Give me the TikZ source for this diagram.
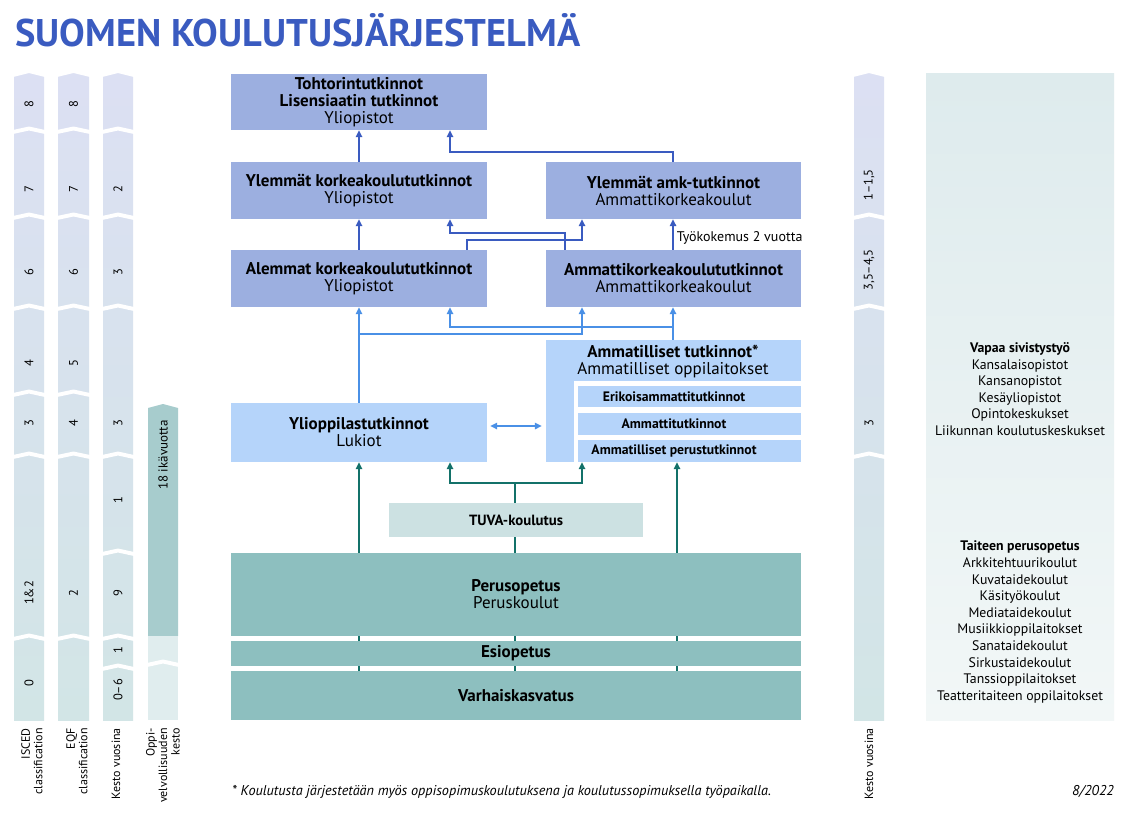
\documentclass[tikz,border=0pt]{standalone}
\usepackage{fontspec}
\setmainfont{PT Sans}
\usetikzlibrary{arrows.meta}
\definecolor{titleblue}{HTML}{3A5BC0}
\definecolor{boxdark}{HTML}{9CAFE0}
\definecolor{boxlight}{HTML}{B5D4FA}
\definecolor{tuvac}{HTML}{CCE1E2}
\definecolor{tealbox}{HTML}{8DBFBF}
\definecolor{arrdark}{HTML}{3A5BC0}
\definecolor{arrlight}{HTML}{4A90E6}
\definecolor{arrteal}{HTML}{137169}
\definecolor{coltop}{HTML}{DCE0F3}
\definecolor{colbot}{HTML}{D2E5E6}
\definecolor{oppidark}{HTML}{A7CCCD}
\definecolor{oppilight}{HTML}{E0EDEE}
\definecolor{paneltop}{HTML}{DEEBED}
\definecolor{panelbot}{HTML}{F2F7F7}
\newcommand\mkcolumn[3]{%
  \fill[top color=coltop,bottom color=colbot] (#1,73) rectangle (#2,720);
  \fill[white] (#1-1,71) -- (#1-1,77) -- ({(#1+#2)/2},73) -- (#2+1,77) -- (#2+1,71) -- cycle;
  \foreach \b in {#3} {\fill[white] (#1-1,\b) -- ({(#1+#2)/2},\b-3.5) -- (#2+1,\b) -- (#2+1,\b+4) -- ({(#1+#2)/2},\b+0.5) -- (#1-1,\b+4) -- cycle;}%
}
\begin{document}
\begin{tikzpicture}[x=1pt,y=-1pt,
  eduBox/.style={inner sep=0pt, align=center, font=\fontsize{17}{17}\selectfont, text=black},
  darkBox/.style={eduBox, fill=boxdark, minimum width=256pt, minimum height=57pt},
  lightBox/.style={eduBox, fill=boxlight},
  subBox/.style={eduBox, fill=boxlight, minimum width=223pt, minimum height=22pt},
  subTxt/.style={font=\fontsize{13.7}{14}\selectfont\bfseries, inner sep=0pt},
  tealBox/.style={eduBox, fill=tealbox, minimum width=570pt},
  numLbl/.style={rotate=90, font=\fontsize{12.5}{12.5}\selectfont, inner sep=0pt},
  colLbl/.style={rotate=90, anchor=east, align=right, font=\fontsize{12}{12.5}\selectfont, inner sep=0pt},
  panelTxt/.style={align=center, font=\fontsize{13.8}{16.6}\selectfont, inner sep=0pt},
  adk/.style={draw=arrdark, line width=1.5pt, -{Triangle[length=7pt,width=6.5pt]}},
  alt/.style={draw=arrlight, line width=1.5pt, -{Triangle[length=7pt,width=6.5pt]}},
  ate/.style={draw=arrteal, line width=1.5pt, -{Triangle[length=7pt,width=6.5pt]}},
  tln/.style={draw=arrteal, line width=1.5pt}
  ]
\useasboundingbox (0,0) rectangle (1134,820);
\fill[white] (0,0) rectangle (1134,820);

% title
\node[anchor=base west, inner sep=0pt, text=titleblue] (title) at (15,46)
  {\resizebox{565pt}{33pt}{\bfseries SUOMEN KOULUTUSJÄRJESTELMÄ}};

% left columns
\mkcolumn{14}{44}{130,216,307,393,455,637}
\mkcolumn{58}{89}{130,216,307,393,455,637}
\mkcolumn{103}{133}{130,216,307,455,552,637,667}
\mkcolumn{854}{884}{216,307,455}
% oppivelvollisuus
\fill[oppidark] (148,408) -- (163,404) -- (178,408) -- (178,636) -- (148,636) -- cycle;
\fill[oppilight] (148,636) rectangle (178,720);
\fill[white] (147,663) -- (163,659.5) -- (179,663) -- (179,667) -- (163,663.5) -- (147,667) -- cycle;

% column numbers
\node[numLbl] (i8) at (29,104) {8};
\node[numLbl] (i7) at (29,189) {7};
\node[numLbl] (i6) at (29,272) {6};
\node[numLbl] (i4) at (29,363) {4};
\node[numLbl] (i3) at (29,423) {3};
\node[numLbl] (i12) at (29,593) {1\&2};
\node[numLbl] (i0) at (29,683) {0};
\node[numLbl] (e8) at (73.5,104) {8};
\node[numLbl] (e7) at (73.5,189) {7};
\node[numLbl] (e6) at (73.5,272) {6};
\node[numLbl] (e5) at (73.5,363) {5};
\node[numLbl] (e4) at (73.5,423) {4};
\node[numLbl] (e2) at (73.5,593) {2};
\node[numLbl] (k2) at (118,189) {2};
\node[numLbl] (k3a) at (118,272) {3};
\node[numLbl] (k3b) at (118,423) {3};
\node[numLbl] (k1a) at (118,500) {1};
\node[numLbl] (k9) at (118,593) {9};
\node[numLbl] (k1b) at (118,650) {1};
\node[numLbl] (k06) at (118,690) {0–6};
\node[numLbl, font=\fontsize{13}{13}\selectfont] (o18) at (163,455) {18 ikävuotta};
\node[numLbl] (r1) at (869,185) {1–1,5};
\node[numLbl] (r2) at (869,270) {3,5–4,5};
\node[numLbl] (r3) at (869,423) {3};

% column captions
\node[colLbl] (capI) at (32,728) {ISCED\\classification};
\node[colLbl] (capE) at (77,728) {EQF\\classification};
\node[colLbl] (capK) at (116,728) {Kesto vuosina};
\node[colLbl] (capO) at (163,728) {Oppi-\\velvollisuuden\\kesto};
\node[colLbl] (capR) at (869,728) {Kesto vuosina};

% right panel
\fill[top color=paneltop,bottom color=panelbot] (926,73) rectangle (1114,720);
\node[panelTxt] (vapaa) at (1020,389) {\textbf{Vapaa sivistystyö}\\Kansalaisopistot\\Kansanopistot\\Kesäyliopistot\\Opintokeskukset\\Liikunnan koulutuskeskukset};
\node[panelTxt] (taide) at (1020,622) {\textbf{Taiteen perusopetus}\\Arkkitehtuurikoulut\\Kuvataidekoulut\\Käsityökoulut\\Mediataidekoulut\\Musiikkioppilaitokset\\Sanataidekoulut\\Sirkustaidekoulut\\Tanssioppilaitokset\\Teatteritaiteen oppilaitokset};

% helper x positions
\coordinate (x450) at (450,0);
\coordinate (x467) at (467,0);
\coordinate (x515) at (515,0);
\coordinate (x565) at (565,0);
\coordinate (x582) at (582,0);
\coordinate (x673) at (673,0);
\coordinate (x677) at (677,0);

% boxes
\node[darkBox, minimum height=56pt] (tohtori) at (359,102) {\textbf{Tohtorintutkinnot}\\\textbf{Lisensiaatin tutkinnot}\\Yliopistot};
\node[darkBox] (ylkk) at (359,190.5) {\textbf{Ylemmät korkeakoulututkinnot}\\Yliopistot};
\node[darkBox, minimum width=255pt] (ylamk) at (673.5,190.5) {\textbf{Ylemmät amk-tutkinnot}\\Ammattikorkeakoulut};
\node[darkBox] (alkk) at (359,278.5) {\textbf{Alemmat korkeakoulututkinnot}\\Yliopistot};
\node[darkBox, minimum width=255pt] (amk) at (673.5,278.5) {\textbf{Ammattikorkeakoulututkinnot}\\Ammattikorkeakoulut};
\node[lightBox, minimum width=256pt, minimum height=59pt] (ylio) at (359,432.5) {\textbf{Ylioppilastutkinnot}\\Lukiot};
\node[lightBox, minimum width=255pt, minimum height=122pt] (amm) at (673.5,401) {};
\fill[white] (574,381) rectangle (802,463);
\node[eduBox] (ammtxt) at (673,361) {\textbf{Ammatilliset tutkinnot*}\\Ammatilliset oppilaitokset};
\node[subBox, minimum height=21pt, label={[subTxt, xshift=-15.5pt]center:Erikoisammattitutkinnot}] (s1) at (689.5,396.5) {};
\node[subBox, label={[subTxt, xshift=-15.5pt]center:Ammattitutkinnot}] (s2) at (689.5,424) {};
\node[subBox, label={[subTxt, xshift=-15.5pt]center:Ammatilliset perustutkinnot}] (s3) at (689.5,451) {};

% teal connectors (drawn behind the lower boxes)
\draw[tln] (359,671) -- (359,553);
\draw[tln] (515,671) -- (515,553);
\draw[tln] (677,671) -- (677,553);
\node[tealBox, minimum height=83pt] (perus) at (516,594.5) {\textbf{Perusopetus}\\Peruskoulut};
\node[tealBox, minimum height=25pt] (esi) at (516,653.5) {\textbf{Esiopetus}};
\node[tealBox, minimum height=49pt] (varh) at (516,695.5) {\textbf{Varhaiskasvatus}};
\draw[ate] (perus.north -| ylio.south) -- (ylio.south);
\draw[tln] (perus.north -| x515) -- (x515 |- 0,483) coordinate (tj);
\node[eduBox, fill=tuvac, minimum width=254pt, minimum height=34pt, font=\fontsize{14.8}{15}\selectfont\bfseries] (tuva) at (516,520) {TUVA-koulutus};
\draw[ate] (tj) -| (ylio.south -| x450);
\draw[ate] (tj) -| (amm.south -| x582);
\draw[ate] (perus.north -| x677) -- (amm.south -| x677);

% light blue connectors
\draw[alt] (ylio.north) -- (alkk.south);
\draw[alt] (ylio.north |- 0,334) -| (amk.south -| x582);
\draw[alt] (amm.north -| x673) -- (amk.south -| x673);
\draw[alt] (amm.north -| x673) ++(0,-13) -| (alkk.south -| x450);
\draw[alt, {Triangle[length=7pt,width=6.5pt]}-{Triangle[length=7pt,width=6.5pt]}, shorten <=3pt, shorten >=4pt] (ylio.east |- 0,426) -- (amm.west |- 0,426);

% dark blue connectors
\draw[adk] (ylkk.north) -- (tohtori.south);
\draw[adk] (ylamk.north -| x673) -- ++(0,-10) -| (tohtori.south -| x450);
\draw[adk] (alkk.north) -- (ylkk.south);
\draw[adk] (alkk.north -| x467) -- ++(0,-10) -| (ylamk.south -| x582);
\draw[adk] (amk.north -| x565) -- ++(0,-17) -| (ylkk.south -| x450);
\draw[adk] (amk.north -| x673) -- (ylamk.south -| x673) node[pos=0.39, anchor=west, xshift=3pt, inner sep=0pt, font=\fontsize{14}{14}\selectfont, text=black] (tyo) {Työkokemus 2 vuotta};

% footnote
\node[anchor=base west, inner sep=0pt, font=\fontsize{14.2}{15}\selectfont\itshape] (foot) at (232,795) {* Koulutusta järjestetään myös oppisopimuskoulutuksena ja koulutussopimuksella työpaikalla.};
\node[anchor=base east, inner sep=0pt, font=\fontsize{14.2}{15}\selectfont\itshape] (date) at (1114,795) {8/2022};
\end{tikzpicture}
\end{document}
